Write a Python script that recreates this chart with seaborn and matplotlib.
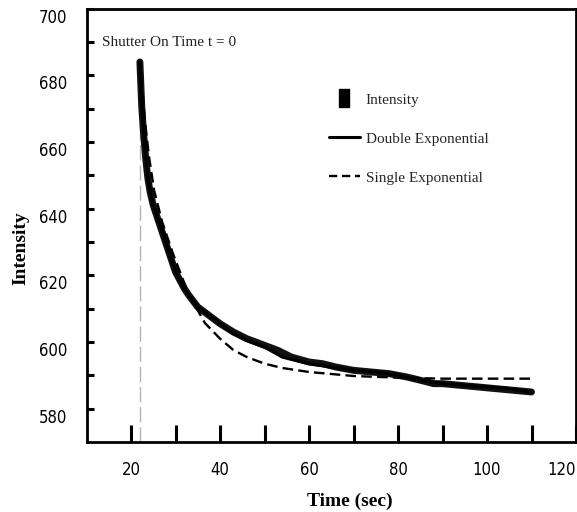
import matplotlib
matplotlib.use("Agg")
import matplotlib.pyplot as plt
from matplotlib.lines import Line2D
import matplotlib.transforms as mtransforms
from matplotlib import font_manager
import seaborn as sns
import pandas as pd

# ---- data ----
time_data = [22.0, 22.4, 22.8, 23.3, 23.8, 24.3, 25, 26, 27, 28, 29, 30, 31, 32, 33, 35, 37, 40,
             43, 46, 50, 53, 56, 60, 63, 66, 70, 74, 78, 82, 86, 88, 90, 94, 98, 102, 106, 110]
intensity = [684, 671, 663, 655, 649, 645, 641, 637, 633, 629, 625, 621, 618.5, 616, 614, 610.5,
             608.5, 605.5, 603, 601, 599, 597.5, 595.5, 594, 593.5, 592.5, 591.5, 591,
             590.5, 589.5, 588.2, 587.5, 587.5, 587, 586.5, 586, 585.5, 585]

time_double = [22, 22.4, 22.8, 23.3, 23.8, 24.3, 25, 26, 27, 28, 29, 30, 31, 32, 33, 35, 37, 40,
               43, 46, 50, 54, 60, 65, 70, 75, 80, 85, 90, 95, 100, 105, 110]
double_exp = [684, 672, 664, 656, 649, 645, 641, 637, 633.5, 629, 625, 621.5, 618.5, 616, 614,
              610.5, 608.5, 605.5, 602.5, 600.5, 598.5, 595.5, 593.5, 592.5, 591.5, 591, 590,
              588.5, 587.5, 587, 586.5, 586, 585]

time_single = [22, 23, 24, 25.2, 27, 29.4, 32.6, 35, 36.6, 40, 43, 46, 50, 54, 60, 70, 80, 90, 100, 110]
single_exp = [684, 668, 656, 645.4, 636, 626.6, 615.5, 609.5, 605.7, 601, 597.6, 595.5, 593.5,
              592.2, 591, 589.8, 589.3, 589, 589, 589]

shutter_time = 22
shutter_line_top = 676

x_major = [20, 40, 60, 80, 100, 120]
x_minor = [30, 50, 70, 90, 110]
y_major = [580, 600, 620, 640, 660, 680, 700]
y_minor = [590, 610, 630, 650, 670, 690]

legend_labels = ["Intensity", "Double Exponential", "Single Exponential"]

# ---- figure ----
sns.set_theme(style="ticks")
plt.rcParams["font.family"] = ["Liberation Serif", "DejaVu Serif"]

fig = plt.figure(figsize=(5.77, 5.12), dpi=100)
W, H = 577, 512
ax = fig.add_axes([86.5 / W, 1 - 442 / H, (576 - 86.5) / W, (442 - 8.6) / H])

df_data = pd.DataFrame({"t": time_data, "I": intensity})
df_double = pd.DataFrame({"t": time_double, "I": double_exp})
df_single = pd.DataFrame({"t": time_single, "I": single_exp})

ax.vlines(shutter_time, 570, shutter_line_top, colors="#b4b4b4", linewidth=1.0,
          linestyles=(0, (11, 3.5)), zorder=1)

sns.lineplot(data=df_data, x="t", y="I", ax=ax, color="#111111", linewidth=5.0,
             estimator=None, sort=True, zorder=2)
sns.lineplot(data=df_single, x="t", y="I", ax=ax, color="black", linewidth=1.7,
             estimator=None, sort=True, zorder=3)
ax.lines[-1].set_dashes((4.5, 2.2))
sns.lineplot(data=df_double, x="t", y="I", ax=ax, color="black", linewidth=2.4,
             estimator=None, sort=True, zorder=4)

ax.set_xlim(10, 120)
ax.set_ylim(570, 700)

ax.set_xticks(x_major)
ax.set_xticks(x_minor, minor=True)
ax.set_yticks(y_major)
ax.set_yticks(y_minor, minor=True)

tick_fp = font_manager.FontProperties(family="DejaVu Sans", stretch="condensed", size=12)
ax.set_xticklabels([str(v) for v in x_major], fontproperties=tick_fp)
ax.set_yticklabels([str(v) for v in y_major], fontproperties=tick_fp)

ax.tick_params(axis="x", which="both", direction="in", length=12, width=2.2, pad=14,
               color="black", labelcolor="black")
ax.tick_params(axis="y", which="both", direction="in", length=5, width=2.2, pad=14,
               color="black", labelcolor="black")

# nudge labels like the reference: y labels sit a little low, "120" sits left of its tick
shift_down = mtransforms.ScaledTranslation(0, -7 / 100, fig.dpi_scale_trans)
for lbl in ax.get_yticklabels():
    lbl.set_transform(lbl.get_transform() + shift_down)
ax.get_xticklabels()[-1].set_horizontalalignment("right")

for s in ax.spines.values():
    s.set_visible(True)
    s.set_linewidth(2.0)
    s.set_color("black")

ax.set_xlabel("Time (sec)", fontsize=14, fontweight="bold", color="black")
ax.set_ylabel("Intensity", fontsize=14, fontweight="bold", color="black")
ax.xaxis.set_label_coords((350 - 86.5) / 489.5, -(493 - 442) / 433.4)
ax.yaxis.set_label_coords(-(86.5 - 29) / 489.5, (442 - 248) / 433.4)

ax.text((102 - 86.5) / 489.5, (442 - 43) / 433.4, "Shutter On Time t = 0",
        transform=ax.transAxes, fontsize=11, va="center", ha="left", color="#222222")

rect_marker = [(-0.6, -1), (0.6, -1), (0.6, 1), (-0.6, 1), (-0.6, -1)]
handles = [
    Line2D([], [], linestyle="none", marker=rect_marker, markersize=13, color="black"),
    Line2D([], [], linestyle="-", linewidth=2.2, color="black"),
    Line2D([], [], linestyle=(0, (3.5, 2)), linewidth=1.7, color="black"),
]
ax.legend(handles, legend_labels, loc="upper left",
          bbox_to_anchor=((329 - 86.5) / 489.5, (442 - 93) / 433.4),
          frameon=False, fontsize=11, handlelength=2.0, handletextpad=0.4,
          labelspacing=1.66, borderpad=0, borderaxespad=0)

ax.grid(False)
fig.savefig("out.png", dpi=100)
